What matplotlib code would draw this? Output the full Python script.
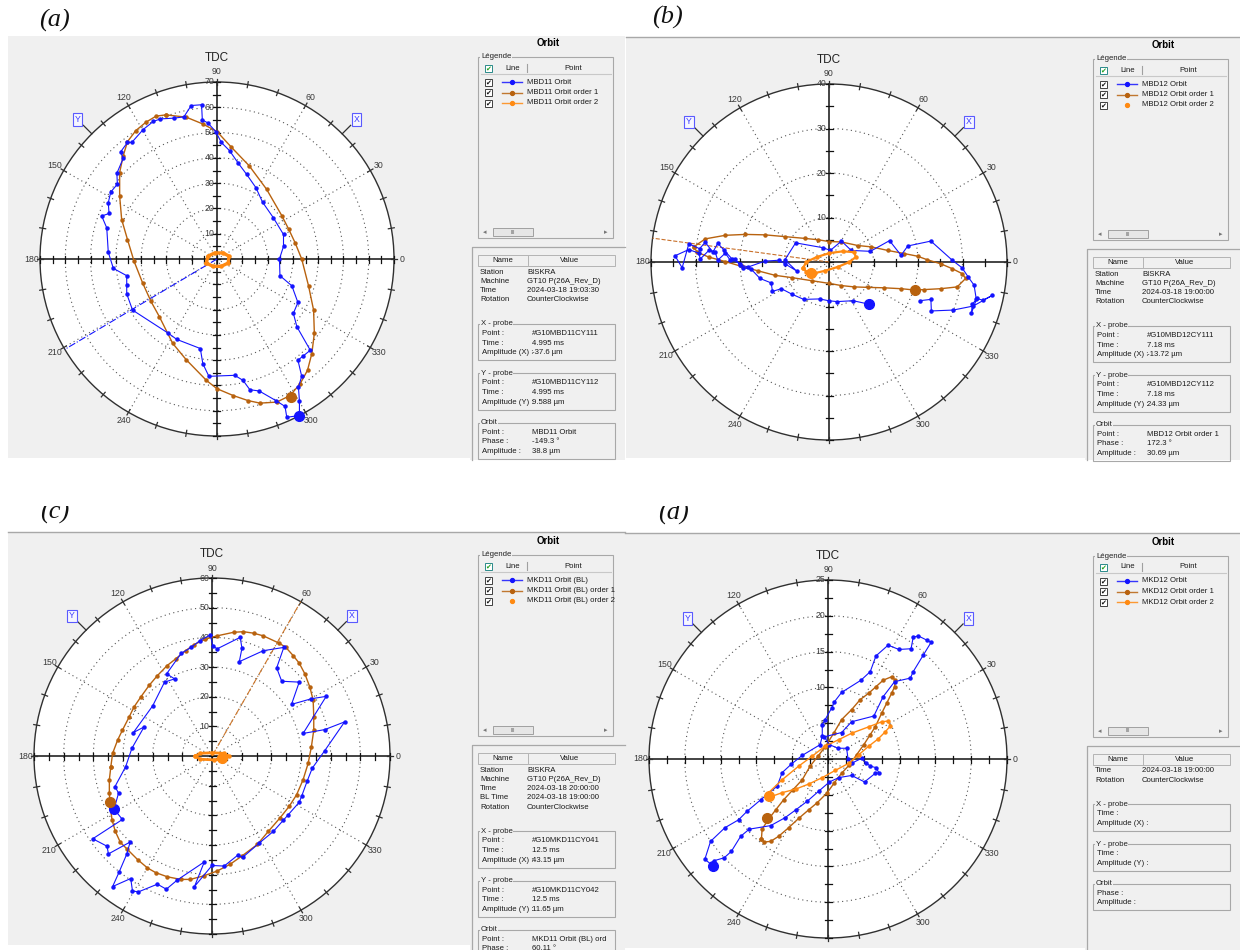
import numpy as np
import matplotlib
matplotlib.use('Agg')
import matplotlib.pyplot as plt
from matplotlib.patches import Circle, Rectangle

plt.rcParams['font.family'] = ['Liberation Sans', 'DejaVu Sans']

W, H = 1240, 950
BG = '#f0f0f0'
BLUE = '#1414ff'
BROWN = '#b8620e'
ORANGE = '#ff8a12'
NARROW = ['Liberation Sans Narrow', 'Liberation Sans', 'DejaVu Sans']

# ==========================================
# (a) MBD11 orbit  (x, y in µm)
# ==========================================
a_rmax, a_step = 70, 10
a_blue = [(32.6, -61.9), (27.6, -62.6), (26.9, -58.3), (23.3, -56.0), (16.7, -52.2), (13.0, -51.7),
          (10.3, -48.0), (7.0, -46.0), (-3.2, -46.4), (-5.6, -41.4), (-6.6, -35.4), (-15.9, -31.8),
          (-19.5, -29.2), (-33.4, -20.2), (-35.7, -13.8), (-35.7, -10.2), (-35.7, -6.6), (-41.0, -3.7),
          (-43.0, 2.7), (-43.6, 12.3), (-45.6, 17.0), (-42.7, 18.0), (-43.0, 22.3), (-42.0, 26.5),
          (-39.4, 29.6), (-39.6, 33.9), (-37.1, 39.8), (-38.1, 42.4), (-35.4, 46.1), (-33.7, 46.1),
          (-29.2, 51.2), (-25.2, 54.4), (-22.4, 55.4), (-17.1, 55.7), (-13.1, 56.2), (-10.2, 60.7),
          (-6.1, 61.0), (-5.8, 55.0), (-3.6, 53.8), (-0.5, 50.4), (1.7, 46.1), (5.0, 42.8), (8.4, 37.9),
          (11.7, 33.5), (15.4, 28.2), (18.0, 22.5), (22.3, 16.3), (26.3, 9.7), (26.3, 5.0), (24.7, 0.0),
          (24.9, -6.6), (29.6, -10.6), (32.0, -17.2), (30.2, -21.5), (31.6, -26.8), (36.9, -36.1),
          (33.9, -38.5), (32.0, -40.0), (33.5, -46.4), (32.2, -50.7), (32.6, -56.0), (32.6, -61.9)]
a_ord1 = [(-20.2, 57.0), (-12.2, 56.1), (-5.6, 53.4), (0.0, 50.4), (5.7, 44.2), (12.7, 36.9), (19.6, 27.6),
          (25.6, 17.2), (28.4, 11.7), (30.9, 6.4), (33.5, 0.0), (36.2, -10.6), (38.2, -20.2), (38.5, -29.4),
          (37.5, -37.4), (35.8, -44.0), (32.9, -49.3), (28.9, -54.0), (23.6, -56.6), (17.0, -57.0),
          (12.3, -56.0), (6.4, -54.0), (0.0, -51.3), (-4.2, -48.0), (-12.2, -39.8), (-17.5, -33.4),
          (-22.8, -22.8), (-26.1, -16.8), (-29.4, -9.5), (-32.8, -0.9), (-35.4, 7.7), (-37.7, 15.6),
          (-38.5, 24.9), (-38.5, 34.2), (-37.1, 40.8), (-35.4, 46.4), (-32.1, 50.8), (-28.1, 54.1),
          (-24.1, 56.5), (-20.2, 57.0)]
a_ord2 = [(-4.2, -1.6), (-3.6, 1.1), (-0.9, 2.4), (2.4, 2.4), (4.8, 1.1), (4.4, -1.6), (1.7, -2.9),
          (-1.6, -2.9), (-4.2, -1.6)]
a_now = [(32.6, -61.9), (29.2, -54.4), None]
a_phase = -149.3

# ==========================================
# (b) MBD12 orbit
# ==========================================
b_rmax, b_step = 40, 10
b_blue = [(9.1, -9.5), (5.4, -8.7), (1.8, -8.9), (-0.1, -8.7), (-2.1, -8.3), (-5.7, -8.4), (-8.4, -7.2),
          (-10.7, -6.0), (-12.7, -6.6), (-13.0, -4.7), (-15.5, -3.7), (-17.5, -1.6), (-19.4, -1.3),
          (-20.0, -0.4), (-21.8, 0.7), (-23.7, 2.8), (-25.0, 4.2), (-26.1, 2.2), (-27.8, 4.4), (-29.1, 3.0),
          (-31.5, 4.1), (-33.0, -1.3), (-34.6, 1.4), (-31.5, 2.8), (-29.3, 2.0), (-28.9, 0.7), (-27.0, 2.6),
          (-25.6, 2.3), (-25.0, 0.4), (-23.3, 2.0), (-22.2, 0.4), (-21.1, 0.7), (-20.0, -0.7), (-18.1, -1.1),
          (-14.4, 0.2), (-11.2, 0.4), (-9.9, -0.4), (-7.3, -2.0), (-9.9, 0.5), (-7.5, 4.3), (-1.3, 3.2),
          (0.3, 2.6), (2.8, 4.7), (5.0, 2.6), (9.3, 2.4), (13.6, 4.8), (16.2, 1.5), (17.7, 3.6), (22.9, 4.7),
          (27.7, 0.4), (29.9, -1.3), (31.3, -3.4), (32.6, -5.2), (33.1, -8.4), (32.2, -9.5), (32.0, -11.5),
          (33.2, -8.2), (34.6, -8.6), (36.7, -7.5), (32.4, -9.9), (27.9, -10.8), (23.0, -11.0), (22.9, -8.4),
          (20.4, -8.7)]
b_ord1 = [(-30.4, 3.4), (-27.8, 5.2), (-23.3, 6.0), (-18.8, 6.2), (-14.4, 6.1), (-9.9, 5.7), (-5.4, 5.3),
          (-2.5, 5.0), (0.0, 4.6), (2.8, 4.5), (6.5, 3.7), (9.5, 3.4), (13.2, 2.6), (16.9, 1.9), (19.9, 1.3),
          (22.1, 0.5), (25.1, -0.4), (27.7, -1.5), (29.9, -2.6), (30.7, -3.7), (28.8, -5.6), (25.1, -6.0),
          (21.4, -6.2), (19.3, -6.3), (16.2, -6.0), (12.4, -5.8), (8.7, -5.7), (5.7, -5.6), (2.8, -5.3),
          (0.0, -4.8), (-3.9, -4.2), (-8.4, -3.5), (-12.1, -3.0), (-15.9, -2.0), (-19.6, -1.0), (-23.3, 0.1),
          (-27.0, 1.1), (-29.6, 2.2), (-30.4, 3.4)]
b_ord2 = [(-5.8, -1.3), (-5.1, 0.0), (-2.8, 1.1), (0.1, 2.0), (3.1, 2.4), (5.7, 2.2), (6.0, 1.1), (4.6, 0.0),
          (2.0, -1.1), (-1.0, -2.0), (-3.2, -2.5), (-5.1, -2.2), (-5.8, -1.3)]
b_now = [(9.1, -9.5), (19.3, -6.3), (-4.1, -2.5)]
b_phase = 172.3

# ==========================================
# (c) MKD11 orbit (BL)
# ==========================================
c_rmax, c_step = 60, 10
c_blue = [(-33.0, -17.9), (-30.2, -21.4), (-40.2, -27.9), (-35.4, -30.4), (-34.9, -33.0), (-27.6, -29.0),
          (-28.7, -33.0), (-31.3, -39.1), (-33.5, -44.0), (-27.4, -41.3), (-26.8, -45.5), (-24.8, -45.8),
          (-18.4, -43.2), (-15.4, -44.9), (-11.7, -41.8), (-2.6, -35.7), (-5.9, -44.0), (0.0, -36.9),
          (4.1, -37.1), (8.6, -33.5), (10.4, -34.1), (16.0, -29.3), (20.7, -25.4), (24.0, -21.7),
          (25.7, -19.8), (29.4, -15.6), (30.2, -13.6), (32.1, -8.4), (33.8, -4.1), (38.0, 1.8), (44.7, 11.5),
          (38.0, 8.9), (30.7, 7.6), (38.5, 20.1), (33.5, 19.3), (26.8, 17.4), (29.4, 24.9), (23.5, 25.2),
          (21.8, 29.7), (24.2, 36.6), (17.3, 35.5), (9.2, 31.8), (10.1, 36.3), (9.5, 40.0), (1.7, 36.1),
          (0.3, 37.2), (-0.6, 40.8), (-4.1, 38.9), (-7.0, 36.6), (-10.4, 34.6), (-15.3, 27.7), (-12.6, 26.0),
          (-16.0, 24.9), (-20.0, 16.9), (-26.5, 7.9), (-22.9, 9.8), (-27.0, 2.6), (-29.1, -3.6),
          (-32.7, -10.3), (-31.5, -12.5), (-33.0, -17.9)]
c_ord1 = [(-34.1, -3.6), (-33.5, 0.9), (-31.8, 5.4), (-30.2, 8.7), (-27.9, 13.2), (-26.3, 16.5), (-24.0, 19.9),
          (-21.2, 23.8), (-18.4, 27.1), (-15.1, 30.5), (-12.3, 32.7), (-8.9, 35.5), (-6.1, 37.5), (-2.2, 39.4),
          (1.7, 40.5), (7.3, 41.7), (10.6, 41.9), (14.0, 41.4), (17.3, 40.5), (22.7, 38.0), (24.9, 36.6),
          (27.4, 33.8), (29.4, 31.3), (31.3, 27.7), (33.0, 23.2), (34.1, 18.8), (34.3, 13.2), (34.3, 8.7),
          (33.5, 3.1), (32.4, -2.5), (30.7, -8.0), (28.5, -13.1), (26.0, -17.0), (22.9, -20.9), (19.0, -25.4),
          (15.3, -29.8), (10.1, -33.7), (6.1, -36.5), (1.7, -38.8), (-2.8, -40.4), (-7.3, -41.6),
          (-10.6, -41.6), (-15.1, -40.7), (-19.0, -39.3), (-21.8, -37.7), (-25.1, -34.9), (-28.5, -31.5),
          (-30.9, -29.1), (-32.6, -25.4), (-33.7, -21.5), (-34.3, -17.0), (-34.6, -12.5), (-34.6, -8.0),
          (-34.1, -3.6)]
c_ord2 = [(-5.6, 0.0), (-3.9, 0.9), (0.0, 1.1), (3.9, 0.9), (5.6, 0.0), (4.1, -1.0), (0.6, -1.3),
          (-3.9, -1.1), (-5.6, 0.0)]
c_now = [(-33.0, -17.9), (-34.3, -15.6), (3.4, -0.8)]
c_phase = 60.11

# ==========================================
# (d) MKD12 orbit
# ==========================================
d_rmax, d_step = 25, 5
d_blue = [(-16.1, -14.9), (-15.9, -14.2), (-14.5, -13.8), (-13.5, -12.9), (-12.2, -10.8), (-11.0, -9.8),
          (-8.0, -9.3), (-6.0, -8.2), (-4.5, -7.1), (-2.9, -5.9), (-1.3, -4.5), (0.2, -3.2), (1.5, -2.6),
          (3.3, -2.3), (5.1, -3.2), (6.6, -2.0), (7.1, -1.9), (6.7, -1.2), (5.9, -1.0), (5.3, -0.5),
          (4.7, 0.1), (3.3, -0.6), (2.8, 0.0), (2.6, 1.5), (1.4, 1.5), (0.2, 2.0), (-0.5, 3.1), (1.9, 3.7),
          (3.3, 5.2), (6.4, 6.0), (7.7, 8.7), (9.3, 10.8), (11.5, 11.3), (11.9, 12.2), (13.3, 14.5),
          (14.4, 16.3), (13.8, 16.6), (12.6, 17.2), (11.9, 17.0), (11.6, 15.4), (9.9, 15.3), (8.4, 15.9),
          (6.7, 14.4), (5.9, 12.2), (4.6, 11.0), (1.9, 9.3), (0.9, 8.0), (0.5, 7.1), (-0.4, 5.5), (-0.8, 4.8),
          (-0.8, 3.2), (-1.1, 2.0), (-3.6, 0.5), (-5.1, -0.7), (-6.4, -1.9), (-7.1, -3.8), (-9.4, -5.7),
          (-11.3, -7.3), (-12.5, -8.5), (-14.4, -9.6), (-16.4, -11.5), (-17.2, -14.0), (-16.1, -14.9)]
d_ord1 = [(-9.3, -11.2), (-9.2, -9.8), (-8.3, -8.4), (-7.3, -7.1), (-6.2, -5.7), (-4.9, -4.3), (-3.6, -2.9),
          (-2.5, -1.0), (-1.4, 0.4), (-0.4, 1.7), (0.8, 3.6), (1.9, 5.5), (3.3, 6.9), (4.5, 8.3), (5.7, 9.2),
          (6.7, 10.1), (7.7, 11.0), (8.9, 11.5), (9.4, 11.0), (9.3, 10.1), (8.9, 9.2), (8.2, 7.8), (7.5, 6.4),
          (6.6, 4.5), (5.9, 3.4), (5.0, 2.0), (4.0, 0.6), (3.0, -0.8), (1.9, -2.0), (0.9, -3.3), (-0.1, -4.7),
          (-1.5, -6.1), (-2.7, -7.1), (-4.1, -8.3), (-5.5, -9.6), (-6.9, -10.8), (-8.0, -11.5), (-8.9, -11.6),
          (-9.3, -11.2)]
d_ord2 = [(-8.5, -5.3), (-8.3, -4.7), (-6.4, -2.9), (-4.1, -1.0), (-2.2, 0.4), (-0.4, 1.8), (1.5, 2.7),
          (3.3, 3.6), (5.7, 4.5), (7.5, 5.2), (8.4, 5.3), (8.7, 4.6), (8.0, 3.8), (7.0, 2.8), (5.7, 1.8),
          (4.3, 0.6), (2.9, -0.6), (1.0, -1.6), (-0.8, -2.6), (-2.7, -3.5), (-4.5, -4.2), (-6.4, -4.7),
          (-7.8, -5.2), (-8.5, -5.3)]
d_now = [(-16.1, -14.9), (-8.5, -8.2), (-8.3, -5.2)]

# ==========================================
# side panel texts
# ==========================================
a_legend = ['MBD11 Orbit', 'MBD11 Orbit order 1', 'MBD11 Orbit order 2']
b_legend = ['MBD12 Orbit', 'MBD12 Orbit order 1', 'MBD12 Orbit order 2']
c_legend = ['MKD11 Orbit (BL)', 'MKD11 Orbit (BL) order 1', 'MKD11 Orbit (BL) order 2']
d_legend = ['MKD12 Orbit', 'MKD12 Orbit order 1', 'MKD12 Orbit order 2']

a_info = [('Station', 'BISKRA'), ('Machine', 'GT10 P(26A_Rev_D)'), ('Time', '2024-03-18 19:03:30'),
          ('Rotation', 'CounterClockwise')]
b_info = [('Station', 'BISKRA'), ('Machine', 'GT10 P(26A_Rev_D)'), ('Time', '2024-03-18 19:00:00'),
          ('Rotation', 'CounterClockwise')]
c_info = [('Station', 'BISKRA'), ('Machine', 'GT10 P(26A_Rev_D)'), ('Time', '2024-03-18 20:00:00'),
          ('BL Time', '2024-03-18 19:00:00'), ('Rotation', 'CounterClockwise')]
d_info = [('Time', '2024-03-18 19:00:00'), ('Rotation', 'CounterClockwise')]

a_groups = [('X - probe', [('Point :', '#G10MBD11CY111'), ('Time :', '4.995 ms'), ('Amplitude (X) :', '-37.6 µm')]),
            ('Y - probe', [('Point :', '#G10MBD11CY112'), ('Time :', '4.995 ms'), ('Amplitude (Y) :', '9.588 µm')]),
            ('Orbit', [('Point :', 'MBD11 Orbit'), ('Phase :', '-149.3 °'), ('Amplitude :', '38.8 µm')])]
b_groups = [('X - probe', [('Point :', '#G10MBD12CY111'), ('Time :', '7.18 ms'), ('Amplitude (X) :', '-13.72 µm')]),
            ('Y - probe', [('Point :', '#G10MBD12CY112'), ('Time :', '7.18 ms'), ('Amplitude (Y) :', '24.33 µm')]),
            ('Orbit', [('Point :', 'MBD12 Orbit order 1'), ('Phase :', '172.3 °'), ('Amplitude :', '30.69 µm')])]
c_groups = [('X - probe', [('Point :', '#G10MKD11CY041'), ('Time :', '12.5 ms'), ('Amplitude (X) :', '43.15 µm')]),
            ('Y - probe', [('Point :', '#G10MKD11CY042'), ('Time :', '12.5 ms'), ('Amplitude (Y) :', '11.65 µm')]),
            ('Orbit', [('Point :', 'MKD11 Orbit (BL) ord'), ('Phase :', '60.11 °')])]
d_groups = [('X - probe', [('Time :', ''), ('Amplitude (X) :', '')]),
            ('Y - probe', [('Time :', ''), ('Amplitude (Y) :', '')]),
            ('Orbit', [('Phase :', ''), ('Amplitude :', '')])]


def px_rect(x, y, w, h):
    return [x / W, 1 - (y + h) / H, w / W, h / H]


fig = plt.figure(figsize=(W / 100, H / 100), dpi=100)
bg = fig.add_axes([0, 0, 1, 1])
bg.set_xlim(0, W)
bg.set_ylim(H, 0)
bg.axis('off')


def rect(x0, y0, x1, y1, **kw):
    bg.add_patch(Rectangle((x0, y0), x1 - x0, y1 - y0, **kw))


def group_box(x0, y0, x1, y1, label):
    rect(x0, y0, x1, y1, fill=False, ec='#a8a8a8', lw=0.8)
    bg.text(x0 + 3, y0, label, ha='left', va='center', fontsize=5.6, family=NARROW, color='#222',
            bbox=dict(fc=BG, ec='none', pad=0.4))


def checkbox(x, y, header=False):
    rect(x - 3.5, y - 3.5, x + 3.5, y + 3.5, fc='white', ec='#2a8a8a' if header else '#404040', lw=0.7)
    bg.text(x, y + 0.3, '✔', ha='center', va='center', fontsize=5, family='DejaVu Sans',
            color='#20a020' if header else '#111111')


# ========================
# polar orbit chart
# ========================
def orbit_plot(cx, cy, R, rmax, step, blue, ord1, ord2, now, phase=None, phase_col=BLUE,
               phase_ls='-.', ord2_lw=1.0):
    half = R * 1.3
    ax = fig.add_axes(px_rect(cx - half, cy - half, 2 * half, 2 * half))
    lim = rmax * 1.3
    ax.set_xlim(-lim, lim)
    ax.set_ylim(-lim, lim)
    ax.axis('off')
    k = rmax / R  # data units per pixel
    t = np.linspace(0, 2 * np.pi, 361)

    ax.add_patch(Circle((0, 0), rmax, fc='white', ec='#303030', lw=1.0, zorder=1))
    for r in np.arange(step, rmax, step):
        ax.plot(r * np.cos(t), r * np.sin(t), ls=(0, (1, 3)), color='#555555', lw=0.8, zorder=2)
    for ang in range(30, 360, 30):
        if ang % 90:
            a = np.radians(ang)
            ax.plot([0, rmax * np.cos(a)], [0, rmax * np.sin(a)], ls=(0, (1, 3)), color='#555555',
                    lw=0.8, zorder=2)
    ax.plot([-rmax, rmax], [0, 0], color='#111111', lw=1.1, zorder=3)
    ax.plot([0, 0], [-rmax, rmax], color='#111111', lw=1.1, zorder=3)
    for v in np.arange(-rmax, rmax + 1e-9, step / 2):
        ax.plot([v, v], [-3.5 * k, 3.5 * k], color='#111111', lw=0.9, zorder=3)
        ax.plot([-3.5 * k, 3.5 * k], [v, v], color='#111111', lw=0.9, zorder=3)
    for ang in range(0, 360, 10):
        a = np.radians(ang)
        ax.plot([(rmax - 3 * k) * np.cos(a), (rmax + 3 * k) * np.cos(a)],
                [(rmax - 3 * k) * np.sin(a), (rmax + 3 * k) * np.sin(a)], color='#303030', lw=0.9, zorder=3)
    for ang in range(0, 360, 30):
        if ang == 270:
            continue
        a = np.radians(ang)
        rr = rmax + (8 if ang in (0, 180) else 10) * k
        ax.text(rr * np.cos(a), rr * np.sin(a), str(ang), ha='center', va='center', fontsize=6.3,
                family=NARROW, color='#3a3a3a', zorder=3)
    for v in range(step, rmax + 1, step):
        ax.text(-2.5 * k, v, str(v), ha='right', va='center', fontsize=6.3, family=NARROW,
                color='#3a3a3a', zorder=3)
    for ang, lab in [(45, 'X'), (135, 'Y')]:
        a = np.radians(ang)
        ax.plot([rmax * np.cos(a), (rmax + 12 * k) * np.cos(a)],
                [rmax * np.sin(a), (rmax + 12 * k) * np.sin(a)], color='#303030', lw=0.9)
        rr = rmax + 20 * k
        ax.text(rr * np.cos(a), rr * np.sin(a), lab, ha='center', va='center', fontsize=6.3,
                family=NARROW, color='#3a3aff',
                bbox=dict(boxstyle='square,pad=0.2', fc='#f6f6ff', ec='#5a5aff', lw=0.8))
    ax.text(0, rmax + 24 * k, 'TDC', ha='center', va='center', fontsize=8.5, color='#222222')

    if phase is not None:
        a = np.radians(phase)
        ax.plot([0, rmax * np.cos(a)], [0, rmax * np.sin(a)], color=phase_col, ls=phase_ls, lw=0.8, zorder=4)

    o1 = np.array(ord1)
    ax.plot(o1[:, 0], o1[:, 1], '-o', color=BROWN, lw=1.0, ms=2.2, zorder=5)
    bl = np.array(blue)
    ax.plot(bl[:, 0], bl[:, 1], '-o', color=BLUE, lw=0.8, ms=2.2, zorder=6)
    o2 = np.array(ord2)
    ax.plot(o2[:, 0], o2[:, 1], '-o', color=ORANGE, lw=ord2_lw, ms=2.2, zorder=7)
    for p, col in zip(now, [BLUE, BROWN, ORANGE]):
        if p is not None:
            ax.plot(p[0], p[1], 'o', color=col, ms=7, zorder=8)


# ========================
# side panel (legend + info)
# ========================
def side_panel(x0, T, names, ord2_line, info, groups, bottom):
    tk = dict(fontsize=5.6, family=NARROW, color='#1a1a1a', va='center')
    bg.text(x0 + 78, T, 'Orbit', ha='center', va='center', fontsize=7, fontweight='bold')
    group_box(x0 + 8, T + 14, x0 + 143, T + 195, 'Légende')
    checkbox(x0 + 18, T + 25, True)
    bg.text(x0 + 43, T + 25, 'Line', ha='center', **tk)
    bg.plot([x0 + 57] * 2, [T + 21, T + 29], color='#a0a0a0', lw=0.8)
    bg.text(x0 + 103, T + 25, 'Point', ha='center', **tk)
    bg.plot([x0 + 11, x0 + 141], [T + 31, T + 31], color='#c8c8c8', lw=0.8)
    for i, (name, col) in enumerate(zip(names, [BLUE, BROWN, ORANGE])):
        y = T + 39 + 10.5 * i
        checkbox(x0 + 18, y)
        if i < 2 or ord2_line:
            bg.plot([x0 + 32, x0 + 52], [y, y], color=col, lw=1.0, alpha=0.85)
        bg.plot(x0 + 42, y, 'o', color=col, ms=2.8)
        bg.text(x0 + 57, y, name, ha='left', **tk)

    sy = T + 189
    bg.text(x0 + 15, sy, '◂', ha='center', va='center', fontsize=5, color='#777777', family='DejaVu Sans')
    rect(x0 + 23, sy - 4, x0 + 63, sy + 4, fc='#e6e6e6', ec='#a0a0a0', lw=0.7)
    bg.text(x0 + 43, sy, 'III', ha='center', va='center', fontsize=4, color='#666666')
    bg.text(x0 + 136, sy, '▸', ha='center', va='center', fontsize=5, color='#777777', family='DejaVu Sans')

    bg.plot([x0 + 2, x0 + 2, x0 + 155], [bottom, T + 204, T + 204], color='#a8a8a8', lw=0.9)
    rect(x0 + 8, T + 212, x0 + 145, T + 223, fc=BG, ec='#b4b4b4', lw=0.7)
    bg.plot([x0 + 58] * 2, [T + 213, T + 222], color='#b4b4b4', lw=0.7)
    bg.text(x0 + 33, T + 217.5, 'Name', ha='center', **tk)
    bg.text(x0 + 100, T + 217.5, 'Value', ha='center', **tk)
    for i, (n, v) in enumerate(info):
        y = T + 229 + 9.3 * i
        bg.text(x0 + 10, y, n, ha='left', **tk)
        bg.text(x0 + 57, y, v, ha='left', **tk)

    gy = T + 229 + 9.3 * (len(info) - 1) + 24
    for title, rows in groups:
        group_box(x0 + 8, gy, x0 + 145, gy + 9 + 9.7 * (len(rows) - 1) + 8, title)
        for j, (n, v) in enumerate(rows):
            y = gy + 9.5 + 9.7 * j
            bg.text(x0 + 12, y, n, ha='left', **tk)
            bg.text(x0 + 62, y, v, ha='left', **tk)
        gy += 11 + 9.6 * len(rows) + 9.5


# panel backgrounds
rect(8, 36, 470, 458, fc=BG, ec='none')
rect(470, 36, 625, 460, fc=BG, ec='none')
rect(626, 37, 1085, 458, fc=BG, ec='none')
rect(1085, 37, 1240, 460, fc=BG, ec='none')
rect(8, 532, 470, 945, fc=BG, ec='none')
rect(470, 532, 625, 950, fc=BG, ec='none')
rect(625, 533, 1085, 948, fc=BG, ec='none')
rect(1085, 533, 1240, 950, fc=BG, ec='none')
bg.plot([626, 1240], [37, 37], color='#a8a8a8', lw=1.0)
bg.plot([8, 625], [532, 532], color='#a8a8a8', lw=1.0)
bg.plot([625, 1240], [533, 533], color='#a8a8a8', lw=1.0)

# panel letters (tops cut off like the source crop)
serif = dict(fontsize=19, family=['Liberation Serif', 'DejaVu Serif'], style='italic', va='baseline',
             color='#111111')
bg.text(39, 27, '(a)', **serif)
bg.text(652, 24, '(b)', **serif)
bg.text(40, 519, '(c)', **serif)
bg.text(658, 520, '(d)', **serif)
rect(0, 0, 625, 9, fc='white', ec='none', zorder=10)
rect(625, 0, 1240, 4, fc='white', ec='none', zorder=10)
rect(0, 490, 1240, 506, fc='white', ec='none', zorder=10)

# charts
orbit_plot(217, 259, 177, a_rmax, a_step, a_blue, a_ord1, a_ord2, a_now, a_phase, BLUE, '-.', ord2_lw=2.4)
orbit_plot(829, 262, 178, b_rmax, b_step, b_blue, b_ord1, b_ord2, b_now, b_phase, '#c8702a', '--', ord2_lw=1.6)
orbit_plot(212, 756, 178, c_rmax, c_step, c_blue, c_ord1, c_ord2, c_now, c_phase, '#d0782a', '-.', ord2_lw=2.0)
orbit_plot(828, 759, 179, d_rmax, d_step, d_blue, d_ord1, d_ord2, d_now)

side_panel(470, 43, a_legend, True, a_info, a_groups, 460)
side_panel(1085, 45, b_legend, False, b_info, b_groups, 460)
side_panel(470, 541, c_legend, False, c_info, c_groups, 950)
side_panel(1085, 542, d_legend, True, d_info, d_groups, 950)

fig.savefig('out.png', dpi=100)
